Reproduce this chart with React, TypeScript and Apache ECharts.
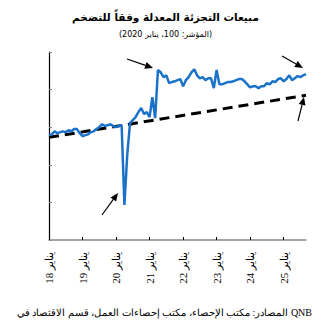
import React, { useEffect, useRef } from "react";
import * as echarts from "echarts";

const years = ["18", "19", "20", "21", "22", "23", "24", "25"];
const monthsPerYear = 12;
const totalMonths = 93; // Jan 2018 .. Sep 2025

const retail2018 = [97.9, 98.1, 98.9, 98.4, 98.7, 98.9, 98.7, 99.2, 98.9, 99.5, 99.5, 98.4];
const retail2019 = [97.6, 97.9, 98.1, 98.7, 98.9, 99.5, 100.0, 100.8, 100.3, 100.5, 100.8, 100.3];
const retail2020 = [100.0, 100.3, 100.5, 79.3, 92.6, 101.1, 101.9, 102.7, 104.0, 105.1, 103.5, 104.0];
const retail2021 = [102.7, 108.0, 102.4, 115.2, 114.6, 113.3, 113.8, 111.7, 112.0, 112.2, 112.5, 112.8];
const retail2022 = [110.9, 112.5, 113.3, 114.6, 115.4, 113.8, 113.0, 113.3, 112.5, 113.0, 113.0, 110.4];
const retail2023 = [115.2, 111.4, 111.4, 111.7, 112.0, 112.0, 112.2, 112.5, 112.8, 112.8, 112.2, 111.4];
const retail2024 = [110.6, 110.9, 110.9, 110.4, 110.9, 110.9, 111.7, 111.4, 112.2, 112.0, 112.8, 113.0];
const retail2025 = [112.2, 112.8, 113.8, 112.5, 113.0, 113.6, 113.3, 113.8, 114.1];

const trendStart = 97.3;
const trendEnd = 108.5;

const titleText = "مبيعات التجزئة المعدلة وفقاً للتضخم";
const subtitleText = "(المؤشر: 100، يناير 2020)";
const sourceText = "المصادر: مكتب الإحصاء، مكتب إحصاءات العمل، قسم الاقتصاد في QNB";
const monthWord = "يناير";

function arrow(x1: number, y1: number, x2: number, y2: number) {
  const dx = x2 - x1;
  const dy = y2 - y1;
  const len = Math.sqrt(dx * dx + dy * dy);
  const ux = dx / len;
  const uy = dy / len;
  const hl = 8;
  const hw = 3.5;
  const bx = x2 - ux * hl;
  const by = y2 - uy * hl;
  return [
    {
      type: "line",
      shape: { x1, y1, x2: bx, y2: by },
      style: { stroke: "#000", lineWidth: 1.2 },
      silent: true,
    },
    {
      type: "polygon",
      shape: {
        points: [
          [x2, y2],
          [bx - uy * hw, by + ux * hw],
          [bx + uy * hw, by - ux * hw],
        ],
      },
      style: { fill: "#000" },
      silent: true,
    },
  ];
}

export default function App() {
  const ref = useRef<HTMLDivElement>(null);
  useEffect(() => {
    document.body.style.margin = "0";
    if (!ref.current) return;
    const chart = echarts.init(ref.current, undefined, { renderer: "svg" });

    const categories: string[] = [];
    for (let i = 0; i < totalMonths; i++) {
      const y = Math.floor(i / monthsPerYear);
      categories.push(i % monthsPerYear === 0 ? `${years[y]} ${monthWord}` : `${i}`);
    }
    const retail = [
      ...retail2018, ...retail2019, ...retail2020, ...retail2021,
      ...retail2022, ...retail2023, ...retail2024, ...retail2025,
    ];
    const trend: (number | null)[] = categories.map(() => null);
    trend[0] = trendStart;
    trend[totalMonths - 1] = trendEnd;

    chart.setOption({
      animation: false,
      grid: { left: 49, right: 25, top: 52, bottom: 89, containLabel: false },
      title: [
        {
          text: titleText,
          left: "center",
          top: 6,
          textStyle: { fontFamily: "DejaVu Sans", fontSize: 10.5, fontWeight: "bold", color: "#000" },
        },
        {
          text: subtitleText,
          left: "center",
          top: 25,
          textStyle: { fontFamily: "DejaVu Sans", fontSize: 8, fontWeight: "normal", color: "#000" },
        },
      ],
      xAxis: {
        type: "category",
        data: categories,
        boundaryGap: false,
        axisLine: { lineStyle: { color: "#888", width: 1.5 } },
        axisTick: {
          inside: true,
          length: 3,
          interval: (i: number) => i % monthsPerYear === 0,
          lineStyle: { color: "#000" },
        },
        axisLabel: {
          interval: (i: number) => i % monthsPerYear === 0,
          rotate: 90,
          margin: 12,
          fontFamily: "Liberation Serif",
          fontSize: 11,
          color: "#000",
        },
      },
      yAxis: {
        type: "value",
        min: 70,
        max: 120,
        interval: 10,
        axisLine: { show: true, lineStyle: { color: "#000", width: 1.2 } },
        axisTick: { show: true, inside: true, length: 3, lineStyle: { color: "#888" } },
        axisLabel: { show: false },
        splitLine: { show: false },
      },
      series: [
        {
          type: "line",
          data: trend,
          connectNulls: true,
          symbol: "none",
          lineStyle: { color: "#000", width: 3, type: [10, 6] },
          z: 2,
        },
        {
          type: "line",
          data: retail,
          symbol: "none",
          lineStyle: { color: "#1a73c9", width: 2.5 },
          z: 3,
        },
      ],
      graphic: [
        ...arrow(127, 59, 153, 68),
        ...arrow(102, 215, 118, 193),
        ...arrow(282, 56, 303, 68),
        ...arrow(298, 121, 304, 97),
        {
          type: "text",
          right: 19,
          top: 307,
          style: {
            text: sourceText,
            fontFamily: "Liberation Serif",
            fontSize: 10,
            fill: "#000",
          },
        },
      ],
    });
    return () => chart.dispose();
  }, []);
  return <div ref={ref} style={{ width: 331, height: 329 }} />;
}
